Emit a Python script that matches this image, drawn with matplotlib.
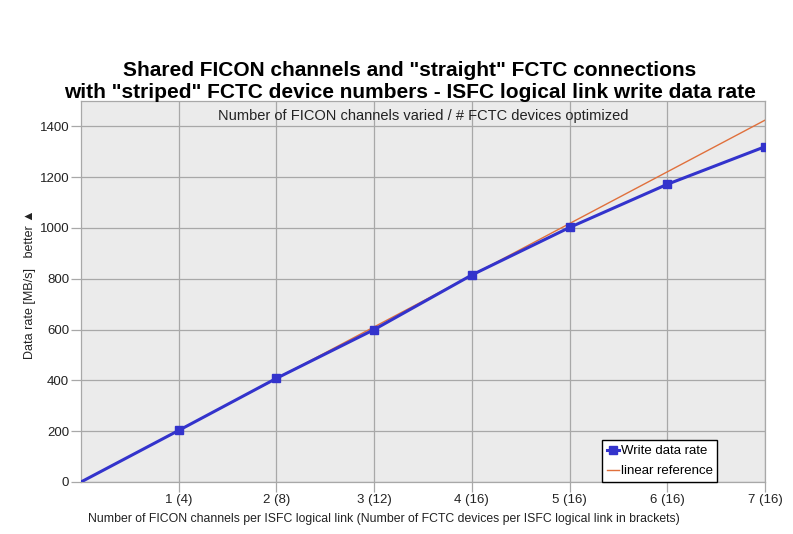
import matplotlib
matplotlib.use("Agg")
import matplotlib.pyplot as plt

plt.rcParams["font.family"] = ["Liberation Sans", "DejaVu Sans"]

# data
channels = [0, 1, 2, 3, 4, 5, 6, 7]
tick_labels = ["1 (4)", "2 (8)", "3 (12)", "4 (16)", "5 (16)", "6 (16)", "7 (16)"]
write_rate = [0, 203, 408, 600, 815, 1002, 1172, 1320]
linear_ref = [0, 203.5, 407, 610.5, 814, 1017.5, 1221, 1424.5]

fig = plt.figure(figsize=(7.93, 5.34), dpi=100)
ax = fig.add_axes([0.1021, 0.0974, 0.8626, 0.7135])
ax.set_facecolor("#ebebeb")

ax.plot(channels, linear_ref, color="#e0703c", lw=1.0, label="linear reference", zorder=3)
ax.plot(channels[1:], write_rate[1:], color="#3333cc", lw=2.2, marker="s", ms=6,
        label="Write data rate", zorder=4)
ax.plot(channels[:2], write_rate[:2], color="#3333cc", lw=2.2, zorder=4)

ax.set_xlim(0, 7)
ax.set_ylim(0, 1500)
ax.set_xticks(channels[1:])
ax.set_xticklabels(tick_labels)
ax.set_yticks(range(0, 1401, 200))
ax.grid(True, color="#a8a8a8", lw=0.9)
ax.set_axisbelow(True)
ax.tick_params(axis="both", labelsize=9.5, colors="#a8a8a8", labelcolor="#222222",
               length=7, width=0.9)
ax.tick_params(axis="y", pad=1.5)
ax.tick_params(axis="x", pad=2)
for side in ["top", "right", "bottom", "left"]:
    ax.spines[side].set_color("#a8a8a8")
    ax.spines[side].set_linewidth(0.9)

ax.set_xlabel("Number of FICON channels per ISFC logical link (Number of FCTC devices per ISFC logical link in brackets)",
              fontsize=8.8, color="#222222")
ax.xaxis.set_label_coords(0.443, -0.081)
ax.set_ylabel("Data rate [MB/s]   better \u25b2", fontsize=9.0, color="#222222")
ax.yaxis.set_label_coords(-0.066, 0.52)
ax.text(0.5, 0.978, "Number of FICON channels varied / # FCTC devices optimized",
        transform=ax.transAxes, ha="center", va="top", fontsize=10.5, color="#222222")

fig.text(0.517, 0.886, "Shared FICON channels and \"straight\" FCTC connections\n"
         "with \"striped\" FCTC device numbers - ISFC logical link write data rate",
         ha="center", va="top", fontsize=15, fontweight="bold", linespacing=1.2)

handles, labels = ax.get_legend_handles_labels()
leg = ax.legend(handles[::-1], labels[::-1], loc="lower right", bbox_to_anchor=(0.930, 0.0),
                fontsize=9.5, frameon=True, fancybox=False, framealpha=1,
                edgecolor="black", handlelength=0.9, handletextpad=0.15,
                borderpad=0.35, labelspacing=0.6, borderaxespad=0)
leg.get_frame().set_linewidth(1.0)

fig.savefig("out.png", dpi=100)
